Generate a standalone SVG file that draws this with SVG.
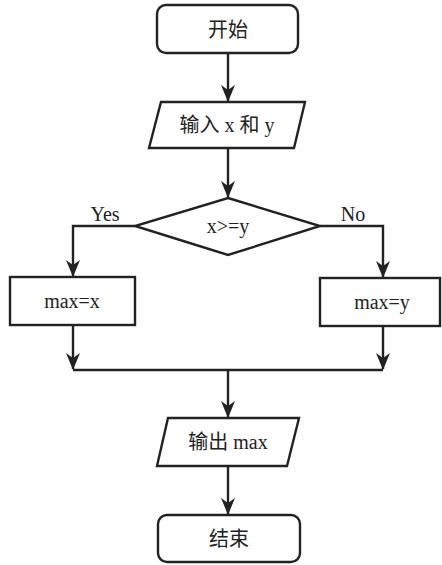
<svg xmlns="http://www.w3.org/2000/svg" width="442" height="565" viewBox="0 0 442 565">
<style>
.s{fill:#fff;stroke:#222;stroke-width:2.4}
.c{fill:none;stroke:#222;stroke-width:2.4}
.t{font-family:"Liberation Serif","Noto Sans CJK SC",serif;font-size:20px;fill:#222;text-anchor:middle}
</style>
<rect width="442" height="565" fill="#fff"/>
<g id="connectors">
<path class="c" d="M228,53 V101"/>
<path class="c" d="M228,148 V197"/>
<path class="c" d="M135,226 H73 V276"/>
<path class="c" d="M320,226 H383 V277"/>
<path class="c" d="M73,325 V369"/>
<path class="c" d="M383,326 V369"/>
<path class="c" d="M73,370 H383"/>
<path class="c" d="M228,370 V417"/>
<path class="c" d="M228,466 V514"/>
</g>
<g id="arrowheads" fill="#222">
<path d="M221,85 L228,102 L235,85 L228,90 Z"/>
<path d="M221,181 L228,198 L235,181 L228,186 Z"/>
<path d="M66,260 L73,277 L80,260 L73,265 Z"/>
<path d="M376,261 L383,278 L390,261 L383,266 Z"/>
<path d="M66,353 L73,370 L80,353 L73,358 Z"/>
<path d="M376,353 L383,370 L390,353 L383,358 Z"/>
<path d="M221,401 L228,418 L235,401 L228,406 Z"/>
<path d="M221,498 L228,515 L235,498 L228,503 Z"/>
</g>
<g id="start">
<rect class="s" x="157" y="5" width="141" height="48" rx="9"/>
<text class="t" x="228" y="37">开始</text>
</g>
<g id="input">
<polygon class="s" points="161,102 305,102 294,148 149,148"/>
<text class="t" x="227" y="132">输入 x 和 y</text>
</g>
<g id="decision">
<polygon class="s" points="228,198 320,226 228,255 135,226"/>
<text class="t" x="228" y="233">x&gt;=y</text>
<text class="t" x="105" y="221">Yes</text>
<text class="t" x="353" y="221">No</text>
</g>
<g id="maxx">
<rect class="s" x="10" y="277" width="125" height="48"/>
<text class="t" x="72" y="308">max=x</text>
</g>
<g id="maxy">
<rect class="s" x="320" y="278" width="120" height="48"/>
<text class="t" x="382" y="309">max=y</text>
</g>
<g id="output">
<polygon class="s" points="168,418 299,418 287,466 157,466"/>
<text class="t" x="228" y="449">输出 max</text>
</g>
<g id="end">
<rect class="s" x="158" y="515" width="142" height="47" rx="9"/>
<text class="t" x="229" y="546">结束</text>
</g>
</svg>
